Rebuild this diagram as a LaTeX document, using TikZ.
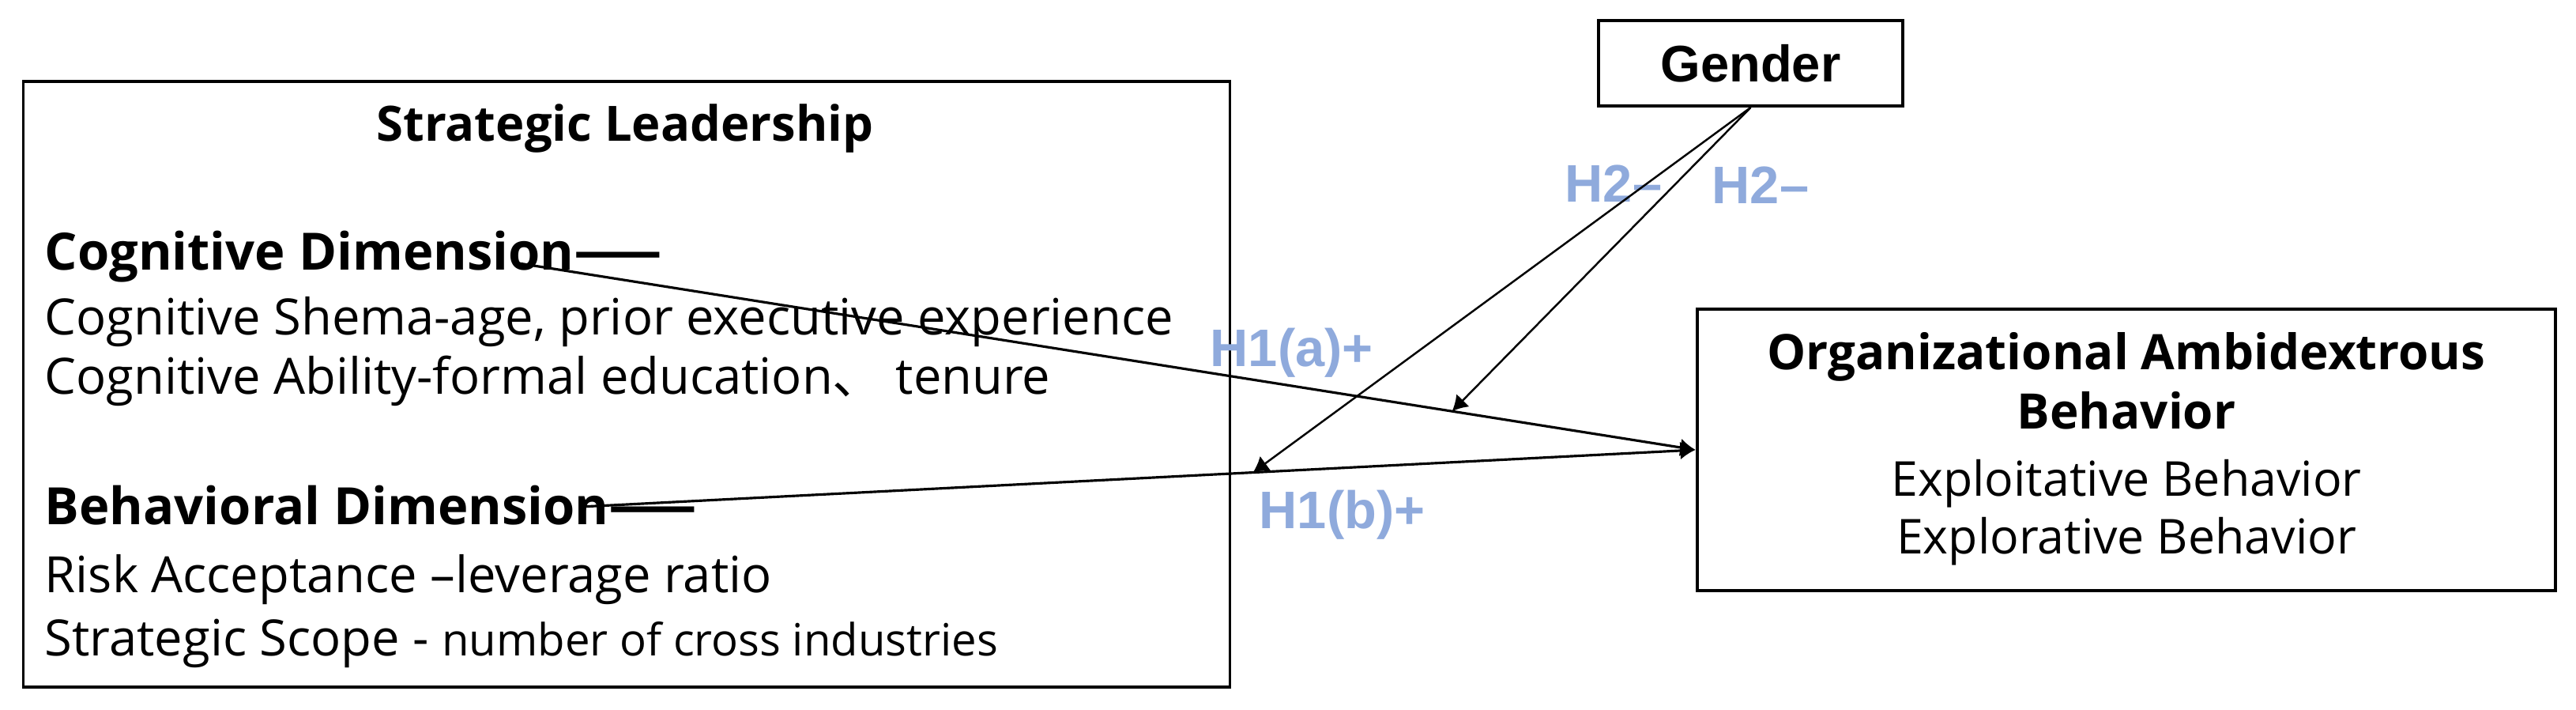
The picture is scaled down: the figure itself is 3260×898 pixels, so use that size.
\documentclass[tikz,border=0pt]{standalone}
\usepackage{fontspec}
\setmainfont{Open Sans}
\newfontfamily\cjk{Noto Sans CJK SC}
\newfontfamily\labelfont{Liberation Sans}
\usetikzlibrary{arrows.meta,calc}
\definecolor{hypblue}{HTML}{8FAADC}

\begin{document}
\begin{tikzpicture}[x=0.01cm,y=-0.01cm,>={Latex[length=5.5pt,width=6.5pt]},
    box/.style={draw,line width=1.1pt,inner sep=0},
    body/.style={inner sep=0,anchor=base west,font=\fontsize{18}{22}\selectfont},
    head/.style={inner sep=0,anchor=base west,font=\fontsize{18.5}{22}\selectfont\bfseries},
    rtitle/.style={inner sep=0,anchor=base,font=\fontsize{17.6}{22}\selectfont\bfseries},
    rbody/.style={inner sep=0,anchor=base,font=\fontsize{17.3}{20}\selectfont},
    hyp/.style={inner sep=0,anchor=base west,text=hypblue,font=\labelfont\fontsize{19}{22}\selectfont\bfseries},
    link/.style={->,line width=0.9pt},
    modlink/.style={->,line width=0.7pt}]
    \useasboundingbox (0,0) rectangle (3260,898);

    \node[box,minimum width=15.26cm,minimum height=7.66cm] (lead) at (793,486) {};
    \node[box,minimum width=3.85cm,minimum height=1.08cm,font=\labelfont\fontsize{18.5}{22}\selectfont\bfseries] (gender) at (2215.5,80) {Gender};
    \node[box,minimum width=10.86cm,minimum height=3.56cm] (ambi) at (2691,569) {};

    \node[head,anchor=base,font=\fontsize{17.5}{20}\selectfont\bfseries] (title) at (791,179) {Strategic Leadership};
    \node[head] (cogdim) at (56,342) {Cognitive Dimension{\cjk ——}};
    \node[body] (cogschema) at (56,424) {Cognitive Shema-age, prior executive experience};
    \node[body] (cogability) at (56,499) {Cognitive Ability-formal education{\cjk 、} tenure};
    \node[head] (behdim) at (56,664) {Behavioral Dimension{\cjk ——}};
    \node[body] (risk) at (56,750) {Risk Acceptance –leverage ratio};
    \node[body] (scope) at (56,830) {Strategic Scope - {\fontsize{16}{18}\selectfont number of cross industries}};

    \node[rtitle] (ambititle) at (2691,468) {Organizational Ambidextrous};
    \node[rtitle] (ambibeh) at (2691,543) {Behavior};
    \node[rbody] (exploit) at (2691,628) {Exploitative Behavior};
    \node[rbody] (explore) at (2691,701) {Explorative Behavior};

    \node[hyp] (h1a) at (1531,464) {H1(a)+};
    \node[hyp] (h1b) at (1593,669) {H1(b)+};
    \node[hyp] (h2a) at (1980,256) {H2–};
    \node[hyp] (h2b) at (2166,258) {H2–};

    \coordinate (cogstart) at (650,332);
    \coordinate (behstart) at (735,641);
    \coordinate (cogmid) at ($(cogstart)!0.794!(ambi.west)$);
    \coordinate (behmid) at ($(behstart)!0.603!(ambi.west)$);

    \draw[link] (cogstart) -- (ambi.west);
    \draw[link] (behstart) -- (ambi.west);
    \draw[modlink] (gender.south) -- (behmid);
    \draw[modlink] (gender.south) -- (cogmid);
\end{tikzpicture}
\end{document}
